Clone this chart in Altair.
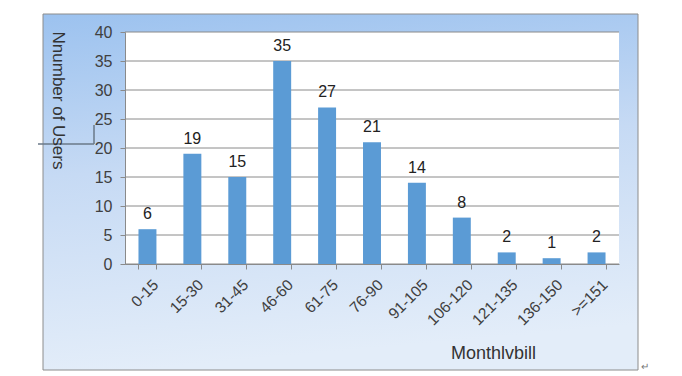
import altair as alt
import pandas as pd

categories = ["0-15", "15-30", "31-45", "46-60", "61-75", "76-90", "91-105",
              "106-120", "121-135", "136-150", ">=151"]
users = [6, 19, 15, 35, 27, 21, 14, 8, 2, 1, 2]
y_ticks = [0, 5, 10, 15, 20, 25, 30, 35, 40]

W, H = 494, 232
FONT = "Liberation Sans"

df = pd.DataFrame({"bill": categories, "users": users})
grid_df = pd.DataFrame({"users": y_ticks})
one = alt.Data(values=[{"a": 1}])

xscale = alt.Scale(domain=categories, paddingInner=0.6, paddingOuter=0.3)
yscale = alt.Scale(domain=[0, 40], nice=False)

yaxis = alt.Axis(title="Nnumber of Users", values=y_ticks, grid=False,
                 labelFont=FONT, labelFontSize=16, labelColor="#404040",
                 tickSize=5, tickColor="#8a8a8a", domainColor="#8a8a8a",
                 labelPadding=8, titleFont=FONT, titleFontSize=17,
                 titleFontWeight="normal", titleColor="#333333",
                 titleAngle=90, titleX=-68, titleY=68, titleAlign="center",
                 titleBaseline="middle", zindex=1)

bg = alt.Chart(one).mark_rect(
    fill=alt.Gradient(
        gradient="linear",
        stops=[alt.GradientStop(color="#9cc2ef", offset=0),
               alt.GradientStop(color="#c6daf4", offset=0.45),
               alt.GradientStop(color="#e3edf9", offset=1)],
        x1=0, x2=0.15, y1=0, y2=1),
    stroke="#8c8c8c", strokeWidth=1
).encode(x=alt.value(-82), x2=alt.value(513), y=alt.value(-18), y2=alt.value(338))

plot_bg = alt.Chart(one).mark_rect(fill="white").encode(
    x=alt.value(0), x2=alt.value(W), y=alt.value(0), y2=alt.value(H))

grid = alt.Chart(grid_df).mark_rule(color="#8a8a8a", strokeWidth=1).encode(
    y=alt.Y("users:Q", scale=yscale, axis=yaxis))

bars = alt.Chart(df).mark_bar(color="#5b9bd5").encode(
    x=alt.X("bill:N", sort=categories, scale=xscale,
            axis=alt.Axis(title="Monthlvbill", labelAngle=-45, tickBand="extent",
                          labelFont=FONT, labelFontSize=15.5, labelColor="#404040",
                          labelPadding=8, labelOffset=3, tickSize=5, tickColor="#8a8a8a",
                          domainColor="#8a8a8a", titleFont=FONT, titleFontSize=18,
                          titleFontWeight="normal", titleColor="#333333",
                          titleX=368, titleY=89, titleAlign="center",
                          titleBaseline="middle", grid=False, zindex=1)),
    y=alt.Y("users:Q", scale=yscale, axis=yaxis))

labels = alt.Chart(df).mark_text(dy=-15, font=FONT, fontSize=16, color="#222222").encode(
    x=alt.X("bill:N", sort=categories, scale=xscale),
    y=alt.Y("users:Q", scale=yscale, axis=yaxis),
    text="users:Q")

bracket_h = alt.Chart(one).mark_rule(color="#6a7888", strokeWidth=1.5).encode(
    x=alt.value(-87), x2=alt.value(-31), y=alt.value(112))
bracket_v = alt.Chart(one).mark_rule(color="#6a7888", strokeWidth=1.5).encode(
    x=alt.value(-31), y=alt.value(93), y2=alt.value(112))
ret_mark = alt.Chart(one).mark_text(text="↵", fontSize=10, color="#777777",
                                     font=FONT).encode(
    x=alt.value(520), y=alt.value(335))

chart = alt.layer(bg, plot_bg, grid, bars, labels, bracket_h, bracket_v, ret_mark).properties(
    width=W, height=H,
    autosize=alt.AutoSizeParams(type="none"),
    padding={"left": 125, "top": 32, "right": 63, "bottom": 112},
    background="white"
).configure_view(stroke=None)

chart.save("out.html", embed_options={"renderer": "svg", "actions": False})
